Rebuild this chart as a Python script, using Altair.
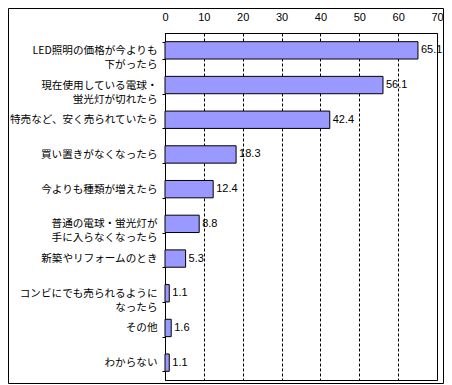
import altair as alt
import pandas as pd

categories = [
    "LED照明の価格が今よりも\n下がったら",
    "現在使用している電球・\n蛍光灯が切れたら",
    "特売など、安く売られていたら",
    "買い置きがなくなったら",
    "今よりも種類が増えたら",
    "普通の電球・蛍光灯が\n手に入らなくなったら",
    "新築やリフォームのとき",
    "コンビにでも売られるように\nなったら",
    "その他",
    "わからない",
]
values = [65.1, 56.1, 42.4, 18.3, 12.4, 8.8, 5.3, 1.1, 1.6, 1.1]
x_ticks = [0, 10, 20, 30, 40, 50, 60, 70]

df = pd.DataFrame({"cat": categories, "val": values})
df["txt"] = df["val"].map(lambda v: f"{v:.1f}")

W, H = 272, 347

y_enc = alt.Y(
    "cat:N",
    sort=categories,
    scale=alt.Scale(paddingInner=0.5, paddingOuter=0.25),
    axis=alt.Axis(
        title=None,
        labelExpr="split(datum.label, '\\n')",
        labelFont="Noto Sans CJK JP",
        labelFontSize=10.6,
        labelColor="black",
        labelLineHeight=14,
        labelPadding=5,
        tickSize=3,
        tickColor="black",
        tickBand="extent",
        domainColor="black",
        labelLimit=200,
    ),
)
x_enc = alt.X(
    "val:Q",
    scale=alt.Scale(domain=[0, 70], nice=False, zero=True),
    axis=alt.Axis(
        orient="top",
        title=None,
        values=x_ticks,
        ticks=False,
        domain=False,
        labelFont="Liberation Sans",
        labelFontSize=11,
        labelColor="black",
        labelPadding=11,
        labelOverlap=False,
        labelFlush=False,
        grid=True,
        gridColor="black",
        gridDash=[3, 2],
        gridOpacity=1,
    ),
)

bars = alt.Chart(df).mark_bar(
    color="#9999FF", stroke="black", strokeWidth=1
).encode(x=x_enc, y=y_enc)

labels = alt.Chart(df).mark_text(
    align="left", baseline="middle", dx=3, font="Liberation Sans",
    fontSize=11, color="black"
).encode(x=x_enc, y=y_enc, text="txt:N")

border = alt.Chart(alt.Data(values=[{"a": 1}])).mark_rect(
    fill=None, stroke="black", strokeWidth=1, clip=False
).encode(
    x=alt.value(-156.5), x2=alt.value(W + 6.5),
    y=alt.value(-24.5), y2=alt.value(H + 3.5)
)

chart = alt.layer(bars, labels, border).properties(
    width=W, height=H,
    autosize=alt.AutoSizeParams(type="none"),
    padding={"left": 157, "top": 25, "right": 7, "bottom": 5},
    background="white",
).configure_view(stroke="black", strokeWidth=1)

chart.save("out.html", embed_options={"renderer": "svg", "actions": False})
